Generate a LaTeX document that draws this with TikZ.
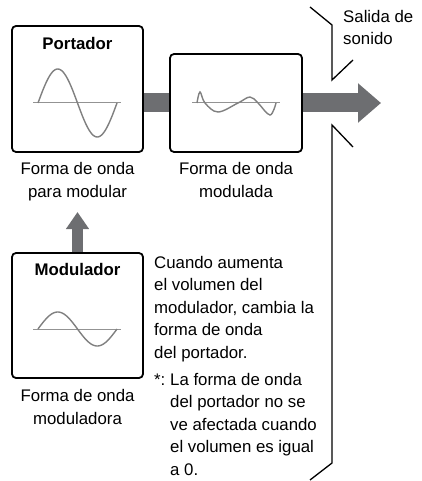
\documentclass[tikz,border=0pt]{standalone}
\usepackage{fontspec}
\setmainfont{Liberation Sans}
\usetikzlibrary{arrows.meta,positioning,backgrounds}
\definecolor{Bar}{HTML}{6D6E71}
\definecolor{Wave}{HTML}{808080}

\begin{document}
\begin{tikzpicture}[
  x=1pt,y=-1pt,
  font=\fontsize{16.8}{22.4}\selectfont,
  panel/.style={draw=black,line width=1.8pt,rounded corners=4pt,fill=white,inner sep=0pt,minimum width=131pt},
  title/.style={font=\fontsize{16.8}{22.4}\selectfont\bfseries,anchor=base,inner sep=0pt},
  caption/.style={align=center,anchor=base,inner sep=0pt},
  note/.style={align=left,anchor=base west,inner sep=0pt},
  bar/.style={draw=Bar,line width=19pt},
  axis/.style={draw=Wave!85,line width=1pt},
  wave/.style={draw=Wave,line width=1.4pt},
  rim/.style={draw=black,line width=1.3pt}
]
\useasboundingbox (0,0) rectangle (421,481);
% boxes
\node[panel,minimum height=126pt] (carrier) at (77.5,89) {};
\node[panel,minimum width=132pt,minimum height=98pt] (modulated) at (236,103) {};
\node[panel,minimum height=125pt] (modulator) at (77.5,315.5) {};
\coordinate (out) at (381,103);
\coordinate (modtip) at (77.5,212);

% titles and captions (base = last line)
\node[title] (carriername) at (77.5,50) {Portador};
\node[title] (modulatorname) at (77.5,275) {Modulador};
\node[caption] (carriercap) at (77.5,197) {Forma de onda\\para modular};
\node[caption] (modulatedcap) at (236,197) {Forma de onda\\modulada};
\node[caption] (modulatorcap) at (77.5,424) {Forma de onda\\moduladora};
\node[note] (output) at (343,45) {Salida de\\sonido};
\node[note] (remark) at (154,358) {Cuando aumenta\\el volumen del\\modulador, cambia la\\forma de onda\\del portador.};
\node[note] (footnote) at (154,475) {\makebox[16pt][l]{*:}La forma de onda\\\hspace*{16pt}del portador no se\\\hspace*{16pt}ve afectada cuando\\\hspace*{16pt}el volumen es igual\\\hspace*{16pt}a 0.};

% waves
\draw[axis] (33,103) -- (121,103);
\draw[wave] plot[domain=0:360,samples=73] ({38+\x/360*79},{103-34*sin(\x)});
\draw[axis] (192,103) -- (280,103);
\draw[wave] plot[smooth,tension=0.6] coordinates {(197,103) (200,92) (205,103) (218,112) (238,103) (250,97) (258,103) (270,115) (276,103)};
\draw[axis] (33,329) -- (121,329);
\draw[wave] plot[domain=0:360,samples=73] ({38+\x/360*79},{329-17*sin(\x)});

% speaker outline
\draw[rim] (310,7) -- (332,25) -- (332,80) -- (353,60);
\draw[rim] (353,147) -- (332,125) -- (332,463) -- (310,480);

% gray arrows
\begin{scope}[on background layer]
\draw[bar] (carrier.east |- modulated.west) -- (modulated.west);
\draw[bar,-{Triangle[length=23pt,width=38pt]}] (modulated.east) -- (out);
\draw[bar,line width=11pt,-{Triangle[length=17pt,width=22pt]}] (modulator.north) -- (modtip);
\end{scope}
\end{tikzpicture}
\end{document}
